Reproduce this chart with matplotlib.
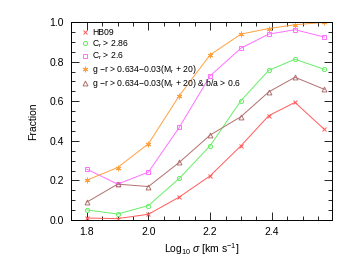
import matplotlib
matplotlib.use("Agg")
import matplotlib.pyplot as plt
from matplotlib.ticker import MultipleLocator, FormatStrFormatter

plt.rcParams['font.family'] = ['Liberation Sans', 'DejaVu Sans']
plt.rcParams['mathtext.fontset'] = 'custom'
plt.rcParams['mathtext.rm'] = 'Liberation Sans'
plt.rcParams['mathtext.it'] = 'Liberation Sans:italic'

log_sigma = [1.80, 1.90, 2.00, 2.10, 2.20, 2.30, 2.39, 2.475, 2.57]

hb09 = [0.010, 0.007, 0.029, 0.116, 0.223, 0.375, 0.527, 0.594, 0.458]
cr286 = [0.051, 0.030, 0.073, 0.210, 0.375, 0.603, 0.756, 0.812, 0.761]
cr26 = [0.257, 0.181, 0.242, 0.468, 0.728, 0.868, 0.939, 0.961, 0.924]
gr = [0.201, 0.265, 0.385, 0.628, 0.834, 0.939, 0.967, 0.986, 0.998]
gr_ba = [0.090, 0.181, 0.169, 0.291, 0.429, 0.522, 0.647, 0.721, 0.660]

labels = ["HB09",
          r"C$_\mathregular{r}$ > 2.86",
          r"C$_\mathregular{r}$ > 2.6",
          "g \u2212r > 0.634\u22120.03(M$_\\mathregular{r}$ + 20)",
          "g \u2212r > 0.634\u22120.03(M$_\\mathregular{r}$ + 20) & b/a > 0.6"]

series = [hb09, cr286, cr26, gr, gr_ba]
colors = ['#ff5a5a', '#66ee66', '#ff70ff', '#ffa040', '#b07070']
markers = ['x', 'o', 's', (6, 2, 0), '^']
msizes = [3.5, 3.0, 3.5, 4.0, 3.5]

fig = plt.figure(figsize=(3.53, 2.65), dpi=100)
ax = fig.add_axes([71/353, 1-220/265, (332-71)/353, (220-22)/265])

handles = []
for y, c, m, ms, lab in zip(series, colors, markers, msizes, labels):
    ax.plot(log_sigma, y, color=c, lw=0.7)
    ax.plot(log_sigma, y, linestyle='none', marker=m, ms=ms, mfc='none',
            mec=c, mew=0.7)
    h, = ax.plot([], [], linestyle='none', marker=m, ms=ms, mfc='none',
                 mec=c, mew=0.7, label=lab)
    handles.append(h)

ax.set_xlim(1.749, 2.595)
ax.set_ylim(0.0, 1.0)
ax.xaxis.set_major_locator(MultipleLocator(0.2))
ax.xaxis.set_minor_locator(MultipleLocator(0.05))
ax.yaxis.set_major_locator(MultipleLocator(0.2))
ax.yaxis.set_minor_locator(MultipleLocator(0.05))
ax.tick_params(which='both', direction='in', top=True, right=True,
               labelsize=7.5, width=0.6)
ax.tick_params(which='major', length=6, pad=5)
ax.tick_params(which='minor', length=3)
ax.xaxis.set_major_formatter(FormatStrFormatter('%.1f'))
ax.yaxis.set_major_formatter(FormatStrFormatter('%.1f'))
for s in ax.spines.values():
    s.set_linewidth(0.7)

ax.set_xlabel(r"Log$_{10}$ $\it{\sigma}$ [km s$^{-1}$]", fontsize=7.5, labelpad=3)
ax.set_ylabel("Fraction", fontsize=7.5, labelpad=8)

ax.legend(handles=handles, loc='upper left', frameon=False, fontsize=6.2,
          handlelength=0.5, handleheight=0.5, handletextpad=0.6,
          labelspacing=0.1, borderaxespad=0.2, bbox_to_anchor=(0.025, 0.995))

fig.savefig("out.png", dpi=100)
